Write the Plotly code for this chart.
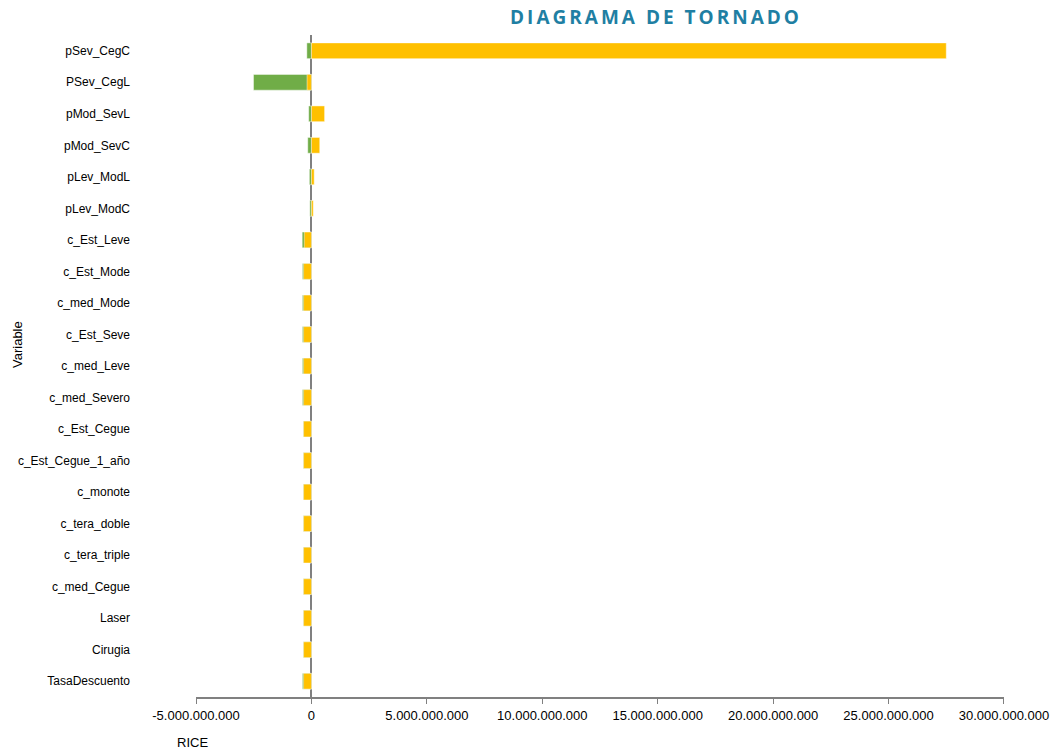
import plotly.graph_objects as go

variables = ["pSev_CegC", "PSev_CegL", "pMod_SevL", "pMod_SevC", "pLev_ModL", "pLev_ModC",
             "c_Est_Leve", "c_Est_Mode", "c_med_Mode", "c_Est_Seve", "c_med_Leve", "c_med_Severo",
             "c_Est_Cegue", "c_Est_Cegue_1_año", "c_monote", "c_tera_doble", "c_tera_triple",
             "c_med_Cegue", "Laser", "Cirugia", "TasaDescuento"]

rice_low = [-0.20e9, -2.51e9, -0.12e9, -0.16e9, -0.09e9, -0.07e9,
            -0.40e9, -0.39e9, -0.39e9, -0.39e9, -0.39e9, -0.39e9,
            -0.35e9, -0.35e9, -0.35e9, -0.35e9, -0.35e9,
            -0.35e9, -0.35e9, -0.35e9, -0.39e9]

rice_high = [27.5e9, -0.19e9, 0.57e9, 0.36e9, 0.12e9, 0.08e9,
             -0.31e9, -0.34e9, -0.34e9, -0.34e9, -0.34e9, -0.34e9,
             -0.34e9, -0.34e9, -0.34e9, -0.34e9, -0.34e9,
             -0.34e9, -0.34e9, -0.34e9, -0.34e9]

x_ticks = [-5e9, 0, 5e9, 10e9, 15e9, 20e9, 25e9, 30e9]
x_tick_labels = ["-5.000.000.000", "0", "5.000.000.000", "10.000.000.000",
                 "15.000.000.000", "20.000.000.000", "25.000.000.000", "30.000.000.000"]

FONT = "Liberation Sans, Arial, sans-serif"
x_range = [-5.0005e9, 30.0005e9]

fig = go.Figure()
fig.add_trace(go.Bar(y=variables, x=rice_low, orientation="h", name="Bajo",
                     marker=dict(color="#70AD47", line=dict(color="rgba(255,255,255,0.45)", width=1)),
                     width=0.5))
fig.add_trace(go.Bar(y=variables, x=rice_high, orientation="h", name="Alto",
                     marker=dict(color="#FFC000", line=dict(color="rgba(255,255,255,0.45)", width=1)),
                     width=0.5))

fig.update_layout(
    width=1052, height=750,
    barmode="overlay",
    showlegend=False,
    plot_bgcolor="white", paper_bgcolor="white",
    margin=dict(l=196, r=48, t=35, b=53, autoexpand=False),
    font=dict(family=FONT, size=12, color="#000000"),
    title=dict(text='<b><span style="letter-spacing:3px">DIAGRAMA DE TORNADO</span></b>',
               xref="container", yref="container",
               x=656/1052, y=1-17.5/750, xanchor="center", yanchor="middle",
               font=dict(family="Open Sans, sans-serif", size=19, color="#1F7FA3")),
    xaxis=dict(range=x_range, tickvals=x_ticks, ticktext=x_tick_labels,
               showgrid=False, zeroline=True, zerolinecolor="#808080", zerolinewidth=2,
               showline=True, linecolor="#808080", linewidth=2,
               ticks="outside", ticklen=5, tickcolor="#808080", tickwidth=1,
               tickfont=dict(family=FONT, size=13), automargin=False, fixedrange=True),
    xaxis2=dict(range=x_range, overlaying="x", matches="x", side="bottom",
                showgrid=False, zeroline=False, showline=False, showticklabels=False,
                tickvals=x_ticks, ticks="inside", ticklen=5, tickcolor="#808080", tickwidth=1,
                automargin=False),
    yaxis=dict(autorange="reversed", showgrid=False, zeroline=False, showline=False,
               ticks="", ticklabelstandoff=65, tickfont=dict(family=FONT, size=12),
               automargin=False),
    annotations=[
        dict(text="RICE", xref="paper", yref="paper", x=(192-196)/808, y=-(742-697)/662,
             xanchor="center", yanchor="middle", showarrow=False,
             font=dict(family=FONT, size=13)),
        dict(text="Variable", xref="paper", yref="paper", x=-(196-17)/808, y=(697-345)/662,
             xanchor="center", yanchor="middle", showarrow=False, textangle=-90,
             font=dict(family=FONT, size=13)),
    ],
)
fig.write_html("out.html")
